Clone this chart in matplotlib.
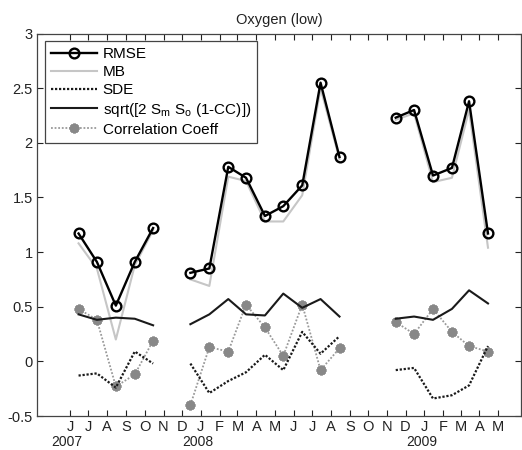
import matplotlib

matplotlib.use("Agg")
import matplotlib.pyplot as plt
import numpy as np
import pandas as pd

plt.rcParams["font.family"] = ["Liberation Sans", "DejaVu Sans"]
plt.rcParams["axes.unicode_minus"] = False

nan = np.nan

# monthly values (mid-month), gaps are missing months
months = [
    "2007-06-15", "2007-07-15", "2007-08-15", "2007-09-15", "2007-10-15", "2007-11-15",
    "2007-12-15", "2008-01-15", "2008-02-15", "2008-03-15", "2008-04-15", "2008-05-15",
    "2008-06-15", "2008-07-15", "2008-08-15", "2008-09-15", "2008-10-15", "2008-11-15",
    "2008-12-15", "2009-01-15", "2009-02-15", "2009-03-15", "2009-04-15",
]
rmse = [1.17, 0.91, 0.51, 0.91, 1.22, nan, 0.81, 0.85, 1.78, 1.68, 1.33, 1.42,
        1.61, 2.55, 1.87, nan, nan, 2.23, 2.30, 1.70, 1.77, 2.38, 1.17]
mb = [1.08, 0.85, 0.20, 0.88, 1.20, nan, 0.75, 0.69, 1.69, 1.65, 1.28, 1.28,
      1.52, 2.50, 1.85, nan, nan, 2.21, 2.27, 1.64, 1.68, 2.30, 1.04]
sde = [-0.13, -0.11, -0.24, 0.09, -0.02, nan, -0.02, -0.29, -0.18, -0.10, 0.06, -0.08,
       0.27, 0.07, 0.23, nan, nan, -0.08, -0.06, -0.34, -0.31, -0.22, 0.14]
crmse = [0.43, 0.38, 0.40, 0.39, 0.33, nan, 0.34, 0.43, 0.57, 0.43, 0.42, 0.62,
         0.49, 0.57, 0.41, nan, nan, 0.39, 0.41, 0.38, 0.48, 0.65, 0.53]
corr = [0.48, 0.38, -0.23, -0.12, 0.19, nan, -0.40, 0.13, 0.09, 0.52, 0.31, 0.05,
        0.52, -0.08, 0.12, nan, nan, 0.36, 0.25, 0.48, 0.27, 0.14, 0.09]

tick_months = [
    "2007-06-01", "2007-07-01", "2007-08-01", "2007-09-01", "2007-10-01", "2007-11-01",
    "2007-12-01", "2008-01-01", "2008-02-01", "2008-03-01", "2008-04-01", "2008-05-01",
    "2008-06-01", "2008-07-01", "2008-08-01", "2008-09-01", "2008-10-01", "2008-11-01",
    "2008-12-01", "2009-01-01", "2009-02-01", "2009-03-01", "2009-04-01", "2009-05-01",
]
tick_labels = ["J", "J", "A", "S", "O", "N", "D", "J", "F", "M", "A", "M",
               "J", "J", "A", "S", "O", "N", "D", "J", "F", "M", "A", "M"]
year_dates = ["2007-06-01", "2008-01-01", "2009-01-01"]
year_labels = ["2007", "2008", "2009"]

x = pd.to_datetime(months)
xt = pd.to_datetime(tick_months)

fig = plt.figure(figsize=(5.22, 4.5), dpi=100)
ax = fig.add_axes([37 / 522, 34 / 450, 484 / 522, 382.5 / 450])

ax.plot(x, mb, color="#c6c6c6", lw=1.5, label="MB", zorder=2)
ax.plot(x, rmse, color="black", lw=1.7, marker="o", ms=7, mfc="none", mec="black",
        mew=1.7, label="RMSE", zorder=4)
ax.plot(x, sde, color="#1a1a1a", lw=1.6, ls=(0, (1, 0.8)), label="SDE", zorder=3)
ax.plot(x, crmse, color="#1a1a1a", lw=1.5,
        label="sqrt([2 S$_\\mathregular{m}$ S$_\\mathregular{o}$ (1-CC)])", zorder=3)
ax.plot(x, corr, color="#9a9a9a", lw=1.3, ls=(0, (1, 1)), marker=(8, 2, 0), ms=7,
        mec="#888888", mew=2.0, label="Correlation Coeff", zorder=2)

ax.set_xlim(pd.Timestamp("2007-04-08"), pd.Timestamp("2009-06-08"))
ax.set_ylim(-0.5, 3)
yt = np.arange(-0.5, 3.01, 0.5)
ax.set_yticks(yt)
ax.set_yticklabels([f"{v:g}" for v in yt])
ax.set_xticks(xt)
ax.set_xticklabels(tick_labels)

for d, lab in zip(pd.to_datetime(year_dates), year_labels):
    ax.annotate(lab, xy=(d, 0), xycoords=("data", "axes fraction"),
                xytext=(-2, -13.5), textcoords="offset points",
                ha="center", va="top", fontsize=10, color="#222222",
                annotation_clip=False)

ax.tick_params(direction="in", length=4, top=True, right=True, labelsize=10.5,
               colors="#222222", pad=3)
for spine in ax.spines.values():
    spine.set_edgecolor("#444444")
    spine.set_linewidth(0.9)

ax.set_title("Oxygen (low)", fontsize=10.5, color="#222222", pad=7)

handles, labels = ax.get_legend_handles_labels()
order = [1, 0, 2, 3, 4]
leg = ax.legend([handles[i] for i in order], [labels[i] for i in order],
                loc="upper left", fontsize=11, handlelength=3.0, handletextpad=0.4,
                labelspacing=0.25, borderaxespad=0.5, fancybox=False,
                edgecolor="#444444", framealpha=1)
leg.get_frame().set_linewidth(0.9)

fig.savefig("out.png", dpi=100, facecolor="white")
